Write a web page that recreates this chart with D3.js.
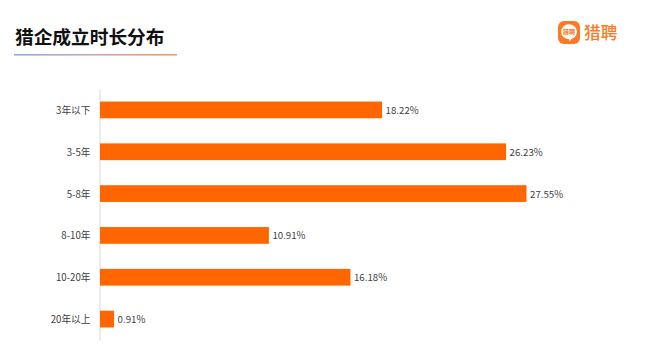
<!DOCTYPE html>
<html>
<head>
<meta charset="utf-8">
<script src="https://cdn.jsdelivr.net/npm/d3@7"></script>
<style>
  html, body { margin: 0; padding: 0; background: #fff; }
  svg { display: block; }
  text { font-family: "Noto Sans CJK SC", "Noto Sans", sans-serif; }
</style>
</head>
<body>
<svg id="chart"></svg>
<script>
const categories = ["3年以下", "3-5年", "5-8年", "8-10年", "10-20年", "20年以上"];
const shares = [18.22, 26.23, 27.55, 10.91, 16.18, 0.91];

const width = 658, height = 361;
const margin = { top: 89, right: 132, bottom: 21, left: 99.5 };
const orange = "#ff6600";

const svg = d3.select("#chart").attr("width", width).attr("height", height);

// title + gradient rule
svg.append("text")
    .attr("x", 15).attr("y", 43.5)
    .attr("font-size", 18.7).attr("font-weight", 700).attr("fill", "#111")
    .text("猎企成立时长分布");

const grad = svg.append("defs").append("linearGradient").attr("id", "rule");
grad.append("stop").attr("offset", "0%").attr("stop-color", "#86aee4");
grad.append("stop").attr("offset", "50%").attr("stop-color", "#cfa6b4");
grad.append("stop").attr("offset", "100%").attr("stop-color", "#f59a5c");
svg.append("rect")
    .attr("x", 14).attr("y", 54).attr("width", 163).attr("height", 1.6)
    .attr("fill", "url(#rule)");

// logo: rounded square with a speech bubble
const logo = svg.append("g").attr("transform", "translate(558,21)");
logo.append("rect")
    .attr("width", 22).attr("height", 23).attr("rx", 6)
    .attr("fill", "#fb7a26");
logo.append("path")
    .attr("d", "M11 3.2a7.9 7.5 0 0 1 7.9 7.5a7.9 7.5 0 0 1-5 7l-2.2 2.6l-.6-2.1a7.9 7.5 0 0 1-8-7.5a7.9 7.5 0 0 1 7.9-7.5z")
    .attr("fill", "#fff");
logo.append("text")
    .attr("x", 11).attr("y", 13.2).attr("text-anchor", "middle")
    .attr("font-size", 6.2).attr("font-weight", 700).attr("fill", "#fb7a26")
    .text("猎聘");
svg.append("text")
    .attr("x", 584).attr("y", 38.5)
    .attr("font-size", 16.7).attr("font-weight", 500).attr("fill", "#fb7a26")
    .text("猎聘");

// bars
const plot = svg.append("g").attr("transform", `translate(${margin.left},${margin.top})`);
const innerW = width - margin.left - margin.right;
const innerH = height - margin.top - margin.bottom;

const x = d3.scaleLinear().domain([0, 27.55]).range([0, innerW]);
const y = d3.scaleBand().domain(categories).range([0, innerH]).paddingInner(0.6).paddingOuter(0.3);

const yAxis = d3.axisLeft(y).tickSize(0).tickPadding(9);
const axisG = plot.append("g").call(yAxis);
axisG.select(".domain").attr("stroke", "#d9d9d9");
axisG.selectAll("text").attr("font-size", 9.7).attr("fill", "#404040")
    .attr("dy", "0.42em")
    .style("font-family", '"Noto Sans CJK SC", sans-serif');

const rows = categories.map((c, i) => ({ c, v: shares[i] }));

plot.selectAll(".bar")
    .data(rows)
    .join("rect")
    .attr("class", "bar")
    .attr("x", 0.5)
    .attr("y", d => y(d.c))
    .attr("width", d => x(d.v))
    .attr("height", y.bandwidth())
    .attr("fill", orange);

plot.selectAll(".val")
    .data(rows)
    .join("text")
    .attr("class", "val")
    .attr("x", d => x(d.v) + 4)
    .attr("y", d => y(d.c) + y.bandwidth() / 2)
    .attr("dy", "0.42em")
    .attr("font-size", 9.7)
    .attr("fill", "#404040")
    .text(d => d.v.toFixed(2) + "%");
</script>
</body>
</html>
